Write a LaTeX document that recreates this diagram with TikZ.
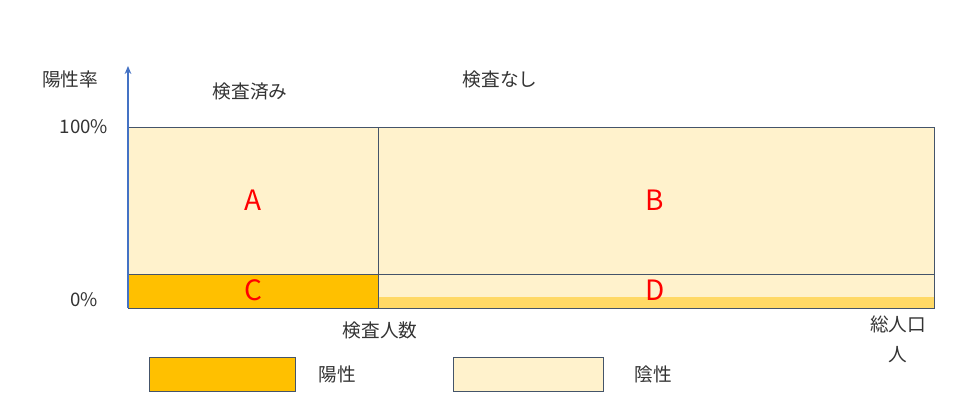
\documentclass[tikz,border=0pt]{standalone}
\usepackage{fontspec}
\setmainfont{Noto Sans CJK JP}
\usetikzlibrary{arrows.meta}
\definecolor{neg}{HTML}{FFF2CC}
\definecolor{pos}{HTML}{FFC000}
\definecolor{strip}{HTML}{FFD966}
\definecolor{edge}{HTML}{44546A}
\definecolor{axisblue}{HTML}{4472C4}
\tikzset{
  region/.style={draw=edge, line width=0.6pt},
  letter/.style={text=red, font=\fontsize{21}{24}\selectfont},
  jp/.style={font=\fontsize{14}{16}\selectfont, text=black!80},
}
\begin{document}
\begin{tikzpicture}[x=0.75pt,y=-0.75pt]
\useasboundingbox (0,0) rectangle (958,412);
% regions
\draw[region, fill=neg] (128,127) rectangle (378,274);
\draw[region, fill=neg] (378,127) rectangle (934,274);
\draw[region, fill=pos] (128,274) rectangle (378,308);
\draw[region, fill=neg] (378,274) rectangle (934,308);
\fill[strip] (378.5,297) rectangle (933.5,307.6);
\coordinate (o) at (128,308);
\coordinate (top) at (128,66);
\draw[axisblue, line width=1pt, -{Stealth[length=6pt,width=5pt]}] (o) -- (top);
% region labels
\node[letter] (A) at (253,200) {A};
\node[letter] (B) at (655,200) {B};
\node[letter] (C) at (253,290) {C};
\node[letter] (D) at (655,290) {D};
% axis labels
\node[jp] (rate) at (70,79) {陽性率};
\node[jp] (p100) at (84,127) {100\%};
\node[jp] (p0) at (84,300) {0\%};
\node[jp] (tested) at (250,91) {検査済み};
\node[jp] (untested) at (500,79) {検査なし};
\node[jp] (ntest) at (380,330) {検査人数};
\node[jp] (total) at (898,324) {総人口};
\node[jp] (person) at (898,355) {人};
% legend
\draw[region, fill=pos] (149,357) rectangle (295,391);
\node[jp] (lpos) at (337,374) {陽性};
\draw[region, fill=neg] (453,357) rectangle (603,391);
\node[jp] (lneg) at (653,374) {陰性};
\end{tikzpicture}
\end{document}
